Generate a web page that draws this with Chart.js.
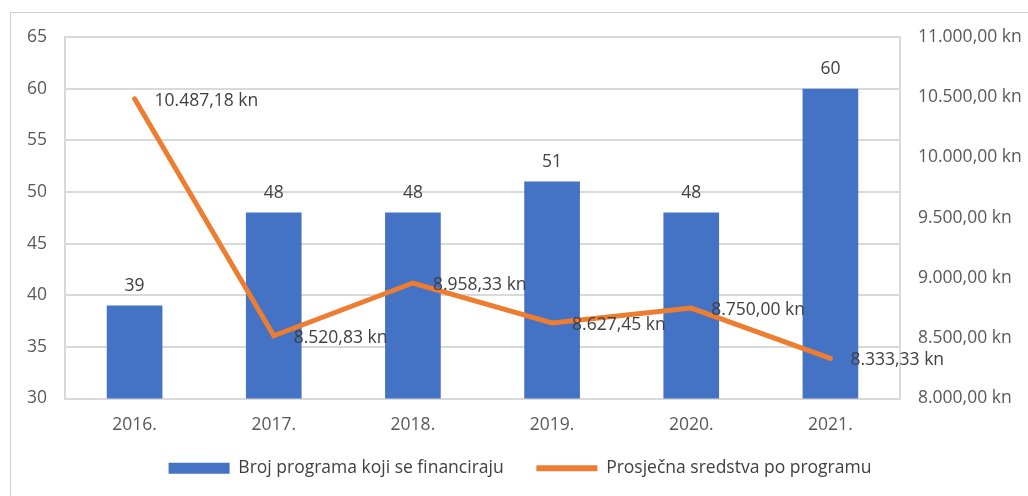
<!DOCTYPE html>
<html>
<head>
<meta charset="utf-8">
<script src="https://cdn.jsdelivr.net/npm/chart.js@4"></script>
<style>
  html, body { margin: 0; padding: 0; background: #fff; }
  #wrap { position: relative; width: 1028px; height: 496px; overflow: hidden; }
  #frame { position: absolute; left: 10px; top: 12px; width: 1040px; height: 500px; border: 1px solid #d0d0d0; box-sizing: border-box; }
  canvas { position: absolute; left: 0; top: 0; }
</style>
</head>
<body>
<div id="wrap">
  <div id="frame"></div>
  <canvas id="chart" width="1028" height="496"></canvas>
</div>
<script>
const years = ['2016.', '2017.', '2018.', '2019.', '2020.', '2021.'];
const programCount = [39, 48, 48, 51, 48, 60];
const avgFunds = [10487.18, 8520.83, 8958.33, 8627.45, 8750.00, 8333.33];

const fontFamily = "'Open Sans', 'Noto Sans', sans-serif";
const fontSize = 17.5;

// croatian number format: 10.487,18 kn
const fmtKn = (v) => {
  const parts = v.toFixed(2).split('.');
  const whole = parts[0].replace(/\B(?=(\d{3})+(?!\d))/g, '.');
  return whole + ',' + parts[1] + ' kn';
};

// draw value labels like excel does
const valueLabels = {
  id: 'valueLabels',
  afterDatasetsDraw(chart) {
    const ctx = chart.ctx;
    ctx.save();
    ctx.font = fontSize + 'px ' + fontFamily;
    ctx.fillStyle = '#404040';
    chart.getDatasetMeta(0).data.forEach((bar, i) => {
      ctx.textAlign = 'center';
      ctx.textBaseline = 'bottom';
      ctx.fillText(programCount[i], bar.x, bar.y - 11);
    });
    chart.getDatasetMeta(1).data.forEach((pt, i) => {
      ctx.textAlign = 'left';
      ctx.textBaseline = 'middle';
      ctx.fillText(fmtKn(avgFunds[i]), pt.x + 20, pt.y + 2);
    });
    ctx.restore();
  }
};

new Chart(document.getElementById('chart'), {
  data: {
    labels: years,
    datasets: [
      {
        type: 'bar',
        label: 'Broj programa koji se financiraju',
        data: programCount,
        backgroundColor: '#4472C4',
        yAxisID: 'y',
        barPercentage: 0.8,
        categoryPercentage: 0.5,
        order: 2
      },
      {
        type: 'line',
        label: 'Prosječna sredstva po programu',
        data: avgFunds,
        borderColor: '#ED7D31',
        backgroundColor: '#ED7D31',
        borderWidth: 5,
        borderCapStyle: 'round',
        pointRadius: 0,
        tension: 0,
        yAxisID: 'y1',
        order: 1
      }
    ]
  },
  options: {
    responsive: false,
    animation: false,
    layout: { padding: { top: 37, bottom: 9, left: 12, right: 0 } },
    plugins: {
      tooltip: { enabled: false },
      legend: {
        position: 'bottom',
        labels: {
          color: '#404040',
          font: { family: fontFamily, size: fontSize },
          usePointStyle: true,
          pointStyleWidth: 61,
          boxHeight: 11,
          padding: 10,
          generateLabels(chart) {
            return chart.data.datasets.map((ds, i) => {
              const isBar = ds.type === 'bar';
              return {
                // trailing spaces widen the gap between the two entries
                text: isBar ? ds.label + '     ' : ds.label,
                fillStyle: isBar ? '#4472C4' : '#ED7D31',
                strokeStyle: isBar ? '#4472C4' : '#ED7D31',
                lineWidth: isBar ? 0 : 6,
                pointStyle: isBar ? 'rect' : 'line',
                datasetIndex: i,
                fontColor: '#404040'
              };
            });
          }
        }
      }
    },
    scales: {
      x: {
        grid: { display: false },
        border: { color: '#d9d9d9', width: 2 },
        ticks: { color: '#595959', font: { family: fontFamily, size: fontSize }, padding: 8 },
        afterFit: (s) => { s.height = 51; }
      },
      y: {
        position: 'left',
        min: 30,
        max: 65,
        ticks: { stepSize: 5, color: '#595959', font: { family: fontFamily, size: fontSize }, padding: 18 },
        grid: { color: '#d9d9d9', lineWidth: 2, drawTicks: false },
        border: { color: '#d9d9d9', width: 2 },
        afterFit: (s) => { s.width = 53; }
      },
      y1: {
        position: 'right',
        min: 8000,
        max: 11000,
        ticks: { stepSize: 500, color: '#595959', font: { family: fontFamily, size: fontSize }, padding: 18, callback: (v) => fmtKn(v) },
        grid: { drawOnChartArea: false, drawTicks: false },
        border: { color: '#d9d9d9', width: 2 },
        afterFit: (s) => { s.width = 128; }
      }
    }
  },
  plugins: [valueLabels]
});
</script>
</body>
</html>
